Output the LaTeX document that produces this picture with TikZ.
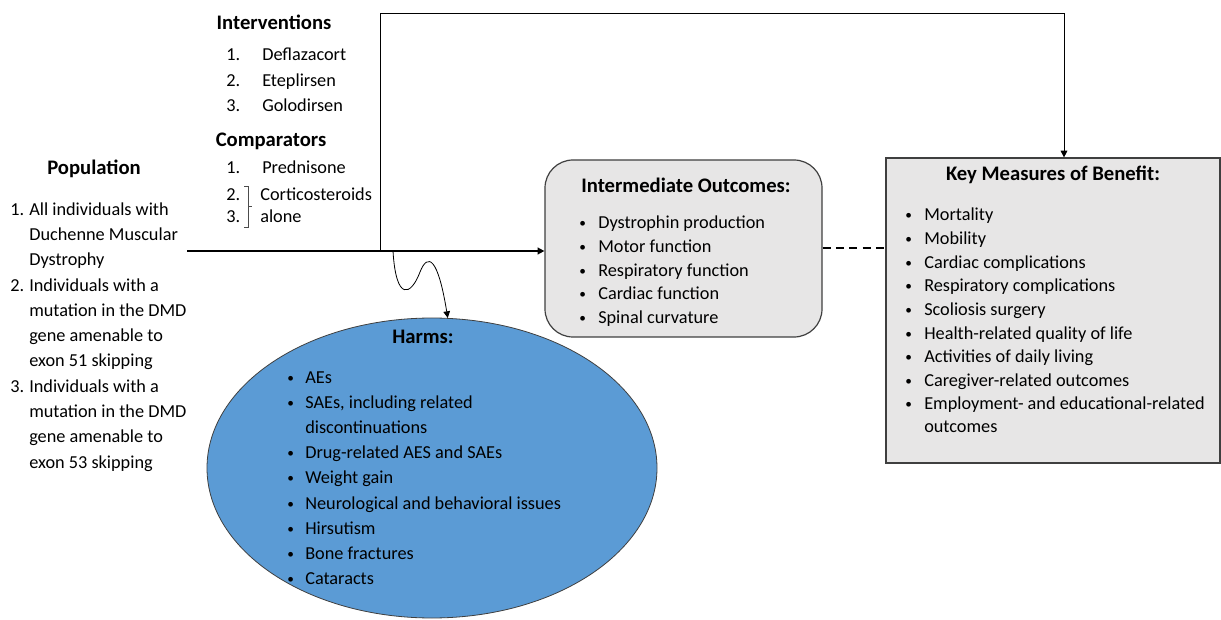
\documentclass[tikz,border=0pt]{standalone}
\usepackage{fontspec}
\setmainfont{Carlito}
\usetikzlibrary{arrows.meta,shapes.geometric,positioning,calc}
\definecolor{boxgray}{HTML}{E7E6E6}
\definecolor{harmblue}{HTML}{5B9BD5}
\definecolor{edgegray}{HTML}{3F3F3F}

\begin{document}
\begin{tikzpicture}[x=0.75pt, y=-0.75pt, every node/.style={font=\fontsize{13.7}{16}\selectfont, inner sep=0pt}]
  \tikzset{
    head/.style={font=\fontsize{15.5}{18}\selectfont\bfseries},
    item/.style={anchor=base west},
    dot/.style={anchor=base west, font=\fontsize{10}{12}\selectfont},
    outbox/.style={draw=edgegray, fill=boxgray, line width=0.9pt},
    link/.style={-{Triangle[width=5pt,length=5pt]}, line width=0.6pt}
  }
  \useasboundingbox (0,0) rectangle (1221,620);

  % Shapes
  \node[outbox, rectangle, rounded corners=21pt, minimum width=207.75pt, minimum height=132.75pt] (inter) at (683.5,248.5) {};
  \node[outbox, rectangle, minimum width=250.5pt, minimum height=228.75pt] (key) at (1053,310.5) {};
  \node[ellipse, draw=edgegray, fill=harmblue, line width=0.6pt, minimum width=337.5pt, minimum height=225pt] (harms) at (432,468) {};

  % Interventions
  \node[head] (intv) at (274,22) {Interventions};
  \foreach \y/\n/\txt in {54/1/Deflazacort, 80/2/Eteplirsen, 105/3/Golodirsen} {
    \node[item] at (226,\y+6.5) {\n.};
    \node[item] at (262,\y+6.5) {\txt};
  }

  % Comparators
  \node[head] (comp) at (271,141) {Comparators};
  \node[item] at (226,173.5) {1.};
  \node[item] at (262,173.5) {Prednisone};
  \node[item] at (226,200.5) {2.};
  \node[item] at (226,222.5) {3.};
  \node[item] at (260,200.5) {Corticosteroids};
  \node[item] at (260,222.5) {alone};
  \draw[line width=0.5pt, black!70] (244,186) -- (248,186) -- (248,227) -- (244,227)
    (248,206.5) -- (252,206.5);

  % Population
  \node[head] (pop) at (94,169) {Population};
  \foreach \y/\n in {209/1, 285/2, 386/3} {
    \node[item] at (10,\y+6.5) {\n.};
  }
  \foreach \y/\txt in {209/All individuals with, 234/Duchenne Muscular, 259/Dystrophy,
    285/Individuals with a, 310/mutation in the DMD, 335/gene amenable to, 360/exon 51 skipping,
    386/Individuals with a, 411/mutation in the DMD, 436/gene amenable to, 462/exon 53 skipping} {
    \node[item] at (29,\y+6.5) {\txt};
  }

  % Intermediate outcomes
  \node[head] (intertitle) at (686,185) {Intermediate Outcomes:};
  \foreach \y/\txt in {222/Dystrophin production, 246/Motor function, 270/Respiratory function,
    293/Cardiac function, 317/Spinal curvature} {
    \node[dot] at (579,\y+5.5) {•};
    \node[item] at (598,\y+6.5) {\txt};
  }

  % Key measures
  \node[head] (keytitle) at (1053,175) {Key Measures of Benefit:};
  \foreach \y/\txt in {214/Mortality, 238/Mobility, 262/Cardiac complications,
    285/Respiratory complications, 309/Scoliosis surgery, 333/Health-related quality of life,
    356/Activities of daily living, 380/Caregiver-related outcomes,
    403/Employment- and educational-related, 426/outcomes} {
    \node[item] at (924,\y+6.5) {\txt};
  }
  \foreach \y in {214,238,262,285,309,333,356,380,403} {
    \node[dot] at (905,\y+5.5) {•};
  }

  % Harms
  \node[head] (harmtitle) at (423,337) {Harms:};
  \foreach \y/\txt in {377/AEs, 402/{SAEs, including related}, 427/discontinuations,
    452/Drug-related AES and SAEs, 477/Weight gain, 503/Neurological and behavioral issues,
    528/Hirsutism, 553/Bone fractures, 578/Cataracts} {
    \node[item] at (305,\y+6.5) {\txt};
  }
  \foreach \y in {377,402,452,477,503,528,553,578} {
    \node[dot] at (287,\y+5.5) {•};
  }

  % Connectors
  \coordinate (popend) at (187,251);
  \coordinate (split) at (380,251);
  \coordinate (wave) at (393,251);
  \coordinate (topright) at (1064,13);
  \draw[link, line width=1.1pt] (popend) -- (popend -| inter.west);
  \draw[link] (split) |- (topright) -- (topright |- key.north);
  \draw[link] (wave) .. controls (396,302) and (411,296) .. (420,272)
    .. controls (428,252) and (438,258) .. (harms.84);
  \draw[dashed, line width=0.9pt, dash pattern=on 6pt off 4pt] (inter.east |- 0,248) -- (key.west |- 0,248);
\end{tikzpicture}
\end{document}
